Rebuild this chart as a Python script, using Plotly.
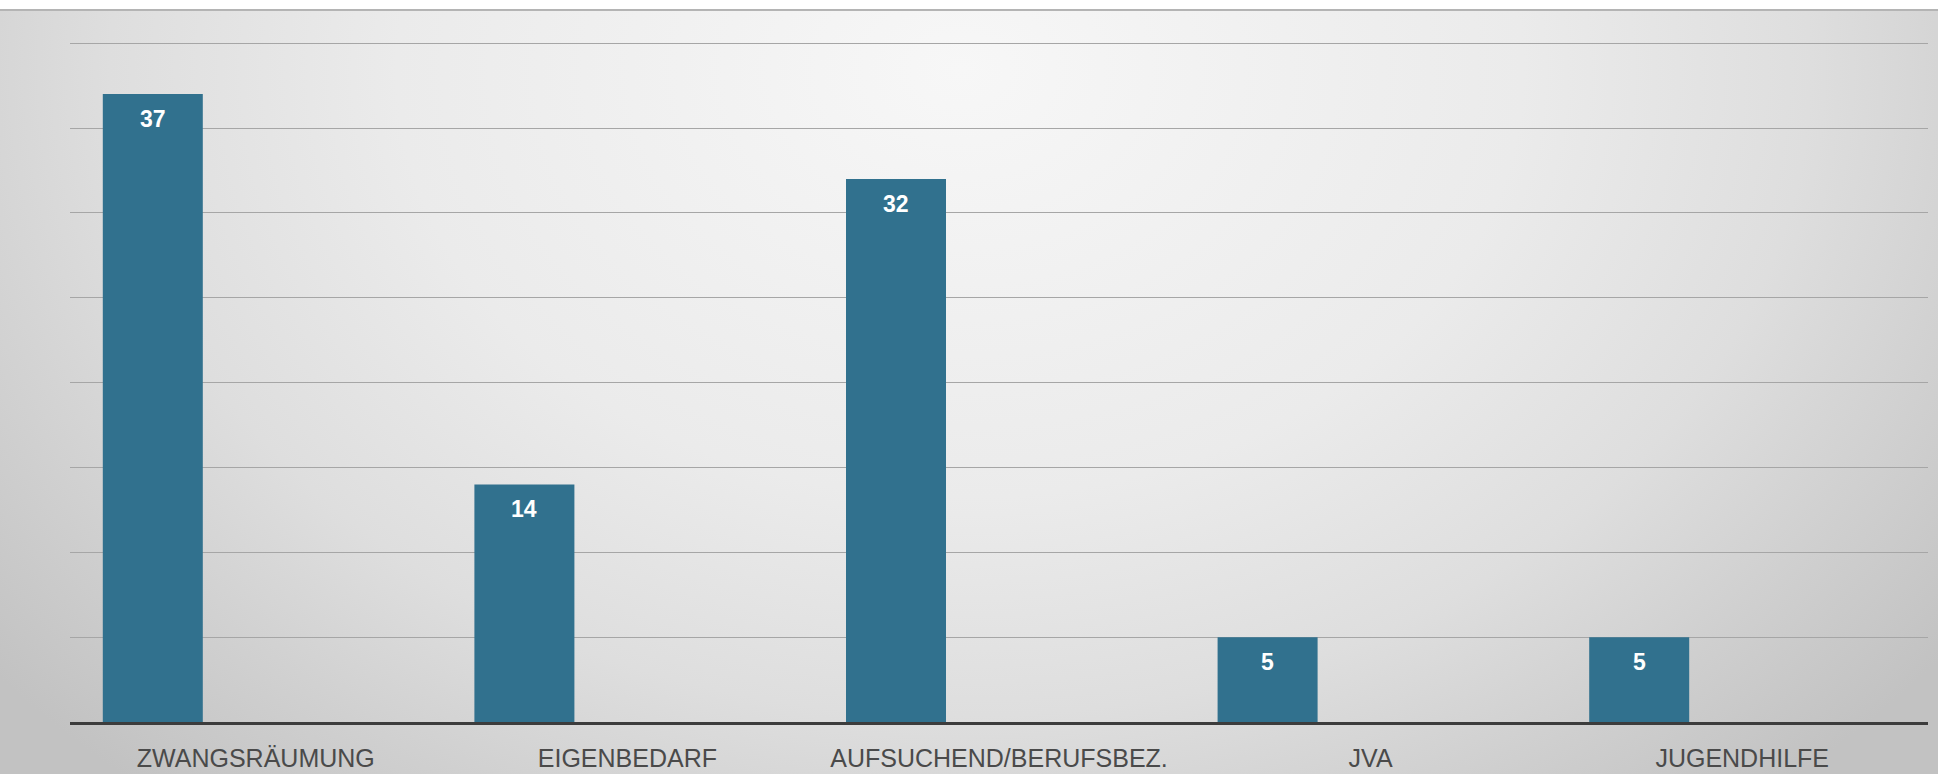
import base64
import plotly.graph_objects as go

categories = ["ZWANGSRÄUMUNG", "EIGENBEDARF", "AUFSUCHEND/BERUFSBEZ.", "JVA", "JUGENDHILFE"]
values = [37, 14, 32, 5, 5]

W, H = 1938, 774
ML, MR, MT, MB = 70, 10, 33, 52
pw, ph = W - ML - MR, H - MT - MB
TOP = 10  # top edge of grey panel (page px)

svg = f'''<svg xmlns="http://www.w3.org/2000/svg" width="{W}" height="{H - TOP}" viewBox="0 0 {W} {H - TOP}" preserveAspectRatio="none">
<defs><radialGradient id="g" gradientUnits="userSpaceOnUse" cx="0" cy="0" r="1" gradientTransform="translate(960,60) scale(1250,950)">
<stop offset="0" stop-color="#f7f7f7"/>
<stop offset="0.45" stop-color="#ebebeb"/>
<stop offset="0.68" stop-color="#dedede"/>
<stop offset="0.85" stop-color="#cfcfcf"/>
<stop offset="1" stop-color="#c2c2c2"/>
</radialGradient></defs>
<rect x="0" y="0" width="{W}" height="{H - TOP}" fill="url(#g)"/></svg>'''
src = "data:image/svg+xml;base64," + base64.b64encode(svg.encode()).decode()

slot = pw / len(categories)
bar_w = 100 / slot
bar_off = -153 / slot

fig = go.Figure()
fig.add_trace(go.Bar(
    x=categories, y=values,
    marker=dict(color="#31718e", line=dict(width=0)),
    width=bar_w, offset=bar_off,
    hoverinfo="x+y",
))

for c, v in zip(categories, values):
    fig.add_annotation(
        x=c, y=v, text=f"<b>{v}</b>", showarrow=False,
        xref="x", yref="y", yanchor="middle", yshift=-25, xshift=-103,
        font=dict(family="Liberation Sans, Arial, sans-serif", size=23, color="white"),
    )

fig.add_layout_image(
    source=src, xref="paper", yref="paper",
    x=-ML / pw, y=(H - MB - TOP) / ph,
    sizex=W / pw, sizey=(H - TOP) / ph,
    xanchor="left", yanchor="top", sizing="stretch", layer="below",
)
fig.add_shape(
    type="line", xref="paper", yref="paper",
    x0=-ML / pw, x1=(W - ML) / pw,
    y0=(H - MB - TOP) / ph, y1=(H - MB - TOP) / ph,
    line=dict(color="#b4b4b4", width=2),
)

fig.update_layout(
    width=W, height=H,
    margin=dict(l=ML, r=MR, t=MT, b=MB, pad=0, autoexpand=False),
    paper_bgcolor="white", plot_bgcolor="rgba(0,0,0,0)",
    showlegend=False,
    font=dict(family="Liberation Sans, Arial, sans-serif"),
    xaxis=dict(
        type="category", range=[-0.5, 4.5], automargin=False,
        showline=True, linecolor="#3c3c3c", linewidth=3,
        ticks="", showgrid=False, zeroline=False,
        tickfont=dict(size=25, color="#4a4a4a"),
        ticklabelstandoff=12,
    ),
    yaxis=dict(
        range=[0, 40.6], dtick=5, showticklabels=False, automargin=False,
        showgrid=True, gridcolor="#a6a6a6", gridwidth=1,
        zeroline=False, showline=False,
    ),
)

fig.write_html("out.html")
